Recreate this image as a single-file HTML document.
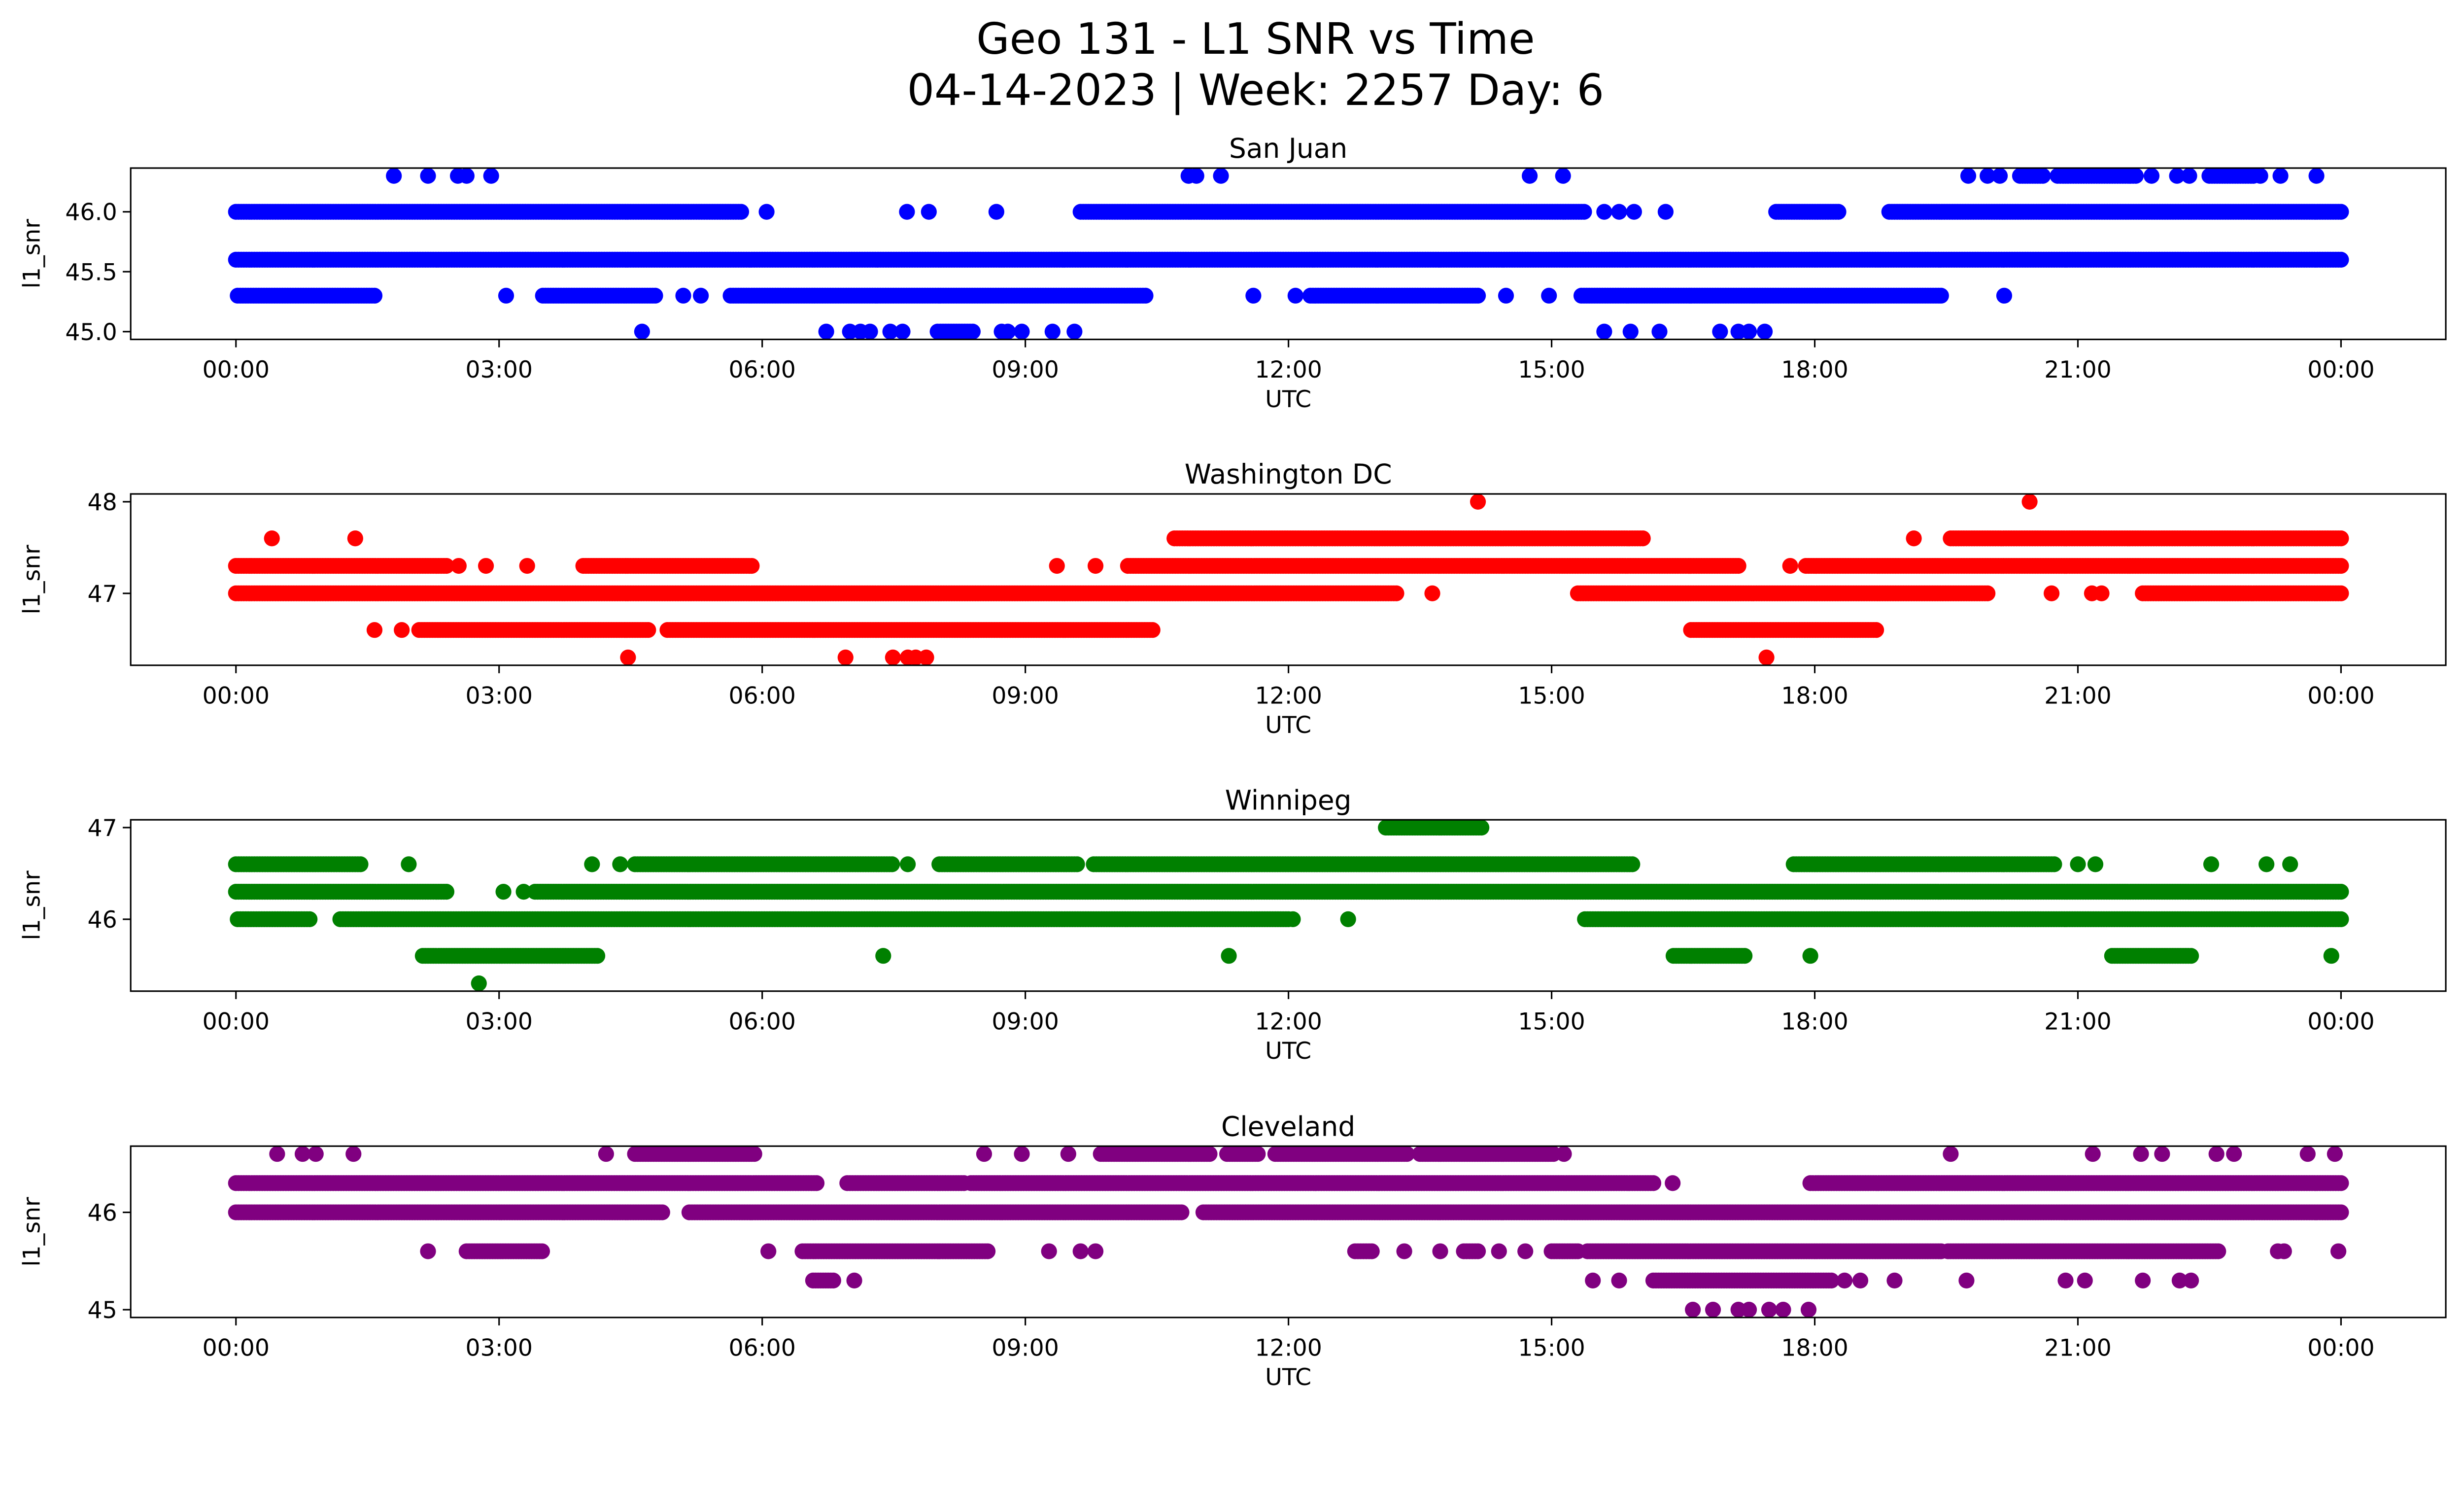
<!DOCTYPE html>
<html><head><meta charset="utf-8"><title>Geo 131 - L1 SNR vs Time</title>
<style>
html,body{margin:0;padding:0;background:#fff;overflow:hidden;}
svg{display:block;position:absolute;left:0;top:0;width:100vw;height:calc(100vw * 3033 / 5279);font-family:"DejaVu Sans","Liberation Sans",sans-serif;}
</style></head>
<body>
<svg id="fig" viewBox="0 0 5279 3033" preserveAspectRatio="none" xmlns="http://www.w3.org/2000/svg">
<rect x="0" y="0" width="5279" height="3033" fill="#fff"/>
<text x="2690" y="115" font-size="92" text-anchor="middle">Geo 131 - L1 SNR vs Time</text>
<text x="2690" y="225" font-size="92" text-anchor="middle">04-14-2023 | Week: 2257 Day: 6</text>
</svg>
<script>
// Each entry: [snr value, start hour, end hour] (start==end for a single point)
const sanJuan = [
 [46.3,1.80,1.80],[46.3,2.19,2.19],[46.3,2.53,2.53],[46.3,2.63,2.63],[46.3,2.91,2.91],[46.3,10.86,10.86],[46.3,10.95,10.95],[46.3,11.23,11.23],[46.3,14.75,14.75],[46.3,15.13,15.13],[46.3,19.75,19.75],[46.3,19.97,19.97],[46.3,20.11,20.11],[46.3,20.34,20.6],[46.3,20.77,21.66],[46.3,21.84,21.84],[46.3,22.13,22.13],[46.3,22.27,22.27],[46.3,22.5,23.0],[46.3,23.08,23.08],[46.3,23.31,23.31],[46.3,23.72,23.72],
 [46.0,0,5.76],[46.0,6.05,6.05],[46.0,7.65,7.65],[46.0,7.9,7.9],[46.0,8.67,8.67],[46.0,9.63,15.37],[46.0,15.6,15.6],[46.0,15.77,15.77],[46.0,15.94,15.94],[46.0,16.3,16.3],[46.0,17.56,18.27],[46.0,18.85,24],
 [45.6,0,24],
 [45.3,0.02,1.58],[45.3,3.08,3.08],[45.3,3.5,4.78],[45.3,5.1,5.1],[45.3,5.3,5.3],[45.3,5.64,10.37],[45.3,11.6,11.6],[45.3,12.08,12.08],[45.3,12.25,14.16],[45.3,14.48,14.48],[45.3,14.97,14.97],[45.3,15.34,19.44],[45.3,20.16,20.16],
 [45.0,4.63,4.63],[45.0,6.73,6.73],[45.0,7.0,7.0],[45.0,7.12,7.12],[45.0,7.23,7.23],[45.0,7.46,7.46],[45.0,7.6,7.6],[45.0,8.0,8.4],[45.0,8.73,8.73],[45.0,8.8,8.8],[45.0,8.96,8.96],[45.0,9.31,9.31],[45.0,9.56,9.56],[45.0,15.6,15.6],[45.0,15.9,15.9],[45.0,16.23,16.23],[45.0,16.92,16.92],[45.0,17.13,17.13],[45.0,17.25,17.25],[45.0,17.43,17.43]
];
const washington = [
 [48.0,14.16,14.16],[48.0,20.45,20.45],
 [47.6,0.41,0.41],[47.6,1.36,1.36],[47.6,10.7,16.04],[47.6,19.13,19.13],[47.6,19.55,24],
 [47.3,0,2.4],[47.3,2.54,2.54],[47.3,2.85,2.85],[47.3,3.32,3.32],[47.3,3.96,5.88],[47.3,9.36,9.36],[47.3,9.8,9.8],[47.3,10.17,17.13],[47.3,17.72,17.72],[47.3,17.9,24],
 [47.0,0,13.23],[47.0,13.64,13.64],[47.0,15.3,19.97],[47.0,20.7,20.7],[47.0,21.16,21.16],[47.0,21.27,21.27],[47.0,21.74,24],
 [46.6,1.58,1.58],[46.6,1.89,1.89],[46.6,2.09,4.7],[46.6,4.92,10.45],[46.6,16.59,18.7],
 [46.3,4.47,4.47],[46.3,6.95,6.95],[46.3,7.49,7.49],[46.3,7.66,7.66],[46.3,7.75,7.75],[46.3,7.87,7.87],[46.3,17.45,17.45]
];
const winnipeg = [
 [47.0,13.11,14.2],
 [46.6,0,1.42],[46.6,1.97,1.97],[46.6,4.06,4.06],[46.6,4.38,4.38],[46.6,4.55,7.48],[46.6,7.66,7.66],[46.6,8.02,9.59],[46.6,9.78,15.92],[46.6,17.76,20.73],[46.6,21.0,21.0],[46.6,21.2,21.2],[46.6,22.52,22.52],[46.6,23.15,23.15],[46.6,23.42,23.42],
 [46.3,0,2.4],[46.3,3.05,3.05],[46.3,3.28,3.28],[46.3,3.41,24],
 [46.0,0.02,0.84],[46.0,1.19,12.0],[46.0,12.05,12.05],[46.0,12.68,12.68],[46.0,15.38,24],
 [45.6,2.13,4.12],[45.6,7.38,7.38],[45.6,11.32,11.32],[45.6,16.39,17.2],[45.6,17.95,17.95],[45.6,21.39,22.29],[45.6,23.89,23.89],
 [45.3,2.77,2.77]
];
const cleveland = [
 [46.6,0.47,0.47],[46.6,0.76,0.76],[46.6,0.91,0.91],[46.6,1.34,1.34],[46.6,4.22,4.22],[46.6,4.55,5.91],[46.6,8.53,8.53],[46.6,8.96,8.96],[46.6,9.49,9.49],[46.6,9.86,11.1],[46.6,11.3,11.65],[46.6,11.85,13.35],[46.6,13.5,15.02],[46.6,15.14,15.14],[46.6,19.55,19.55],[46.6,21.17,21.17],[46.6,21.72,21.72],[46.6,21.96,21.96],[46.6,22.58,22.58],[46.6,22.78,22.78],[46.6,23.62,23.62],[46.6,23.93,23.93],
 [46.3,0,6.62],[46.3,6.97,8.3],[46.3,8.38,16.16],[46.3,16.38,16.38],[46.3,17.95,24],
 [46.0,0,4.86],[46.0,5.17,10.78],[46.0,11.03,24],
 [45.6,2.19,2.19],[45.6,2.63,3.49],[45.6,6.07,6.07],[45.6,6.46,8.57],[45.6,9.27,9.27],[45.6,9.63,9.63],[45.6,9.8,9.8],[45.6,12.76,12.95],[45.6,13.32,13.32],[45.6,13.73,13.73],[45.6,14.0,14.16],[45.6,14.4,14.4],[45.6,14.7,14.7],[45.6,15.0,15.3],[45.6,15.41,19.44],[45.6,19.52,22.6],[45.6,23.28,23.28],[45.6,23.35,23.35],[45.6,23.97,23.97],
 [45.3,6.58,6.81],[45.3,7.05,7.05],[45.3,15.47,15.47],[45.3,15.77,15.77],[45.3,16.16,18.19],[45.3,18.34,18.34],[45.3,18.52,18.52],[45.3,18.91,18.91],[45.3,19.73,19.73],[45.3,20.86,20.86],[45.3,21.08,21.08],[45.3,21.74,21.74],[45.3,22.16,22.16],[45.3,22.29,22.29],
 [45.0,16.61,16.61],[45.0,16.84,16.84],[45.0,17.13,17.13],[45.0,17.25,17.25],[45.0,17.48,17.48],[45.0,17.64,17.64],[45.0,17.93,17.93]
];
const stationNames = ["San Juan","Washington DC","Winnipeg","Cleveland"];
const xTickHours = [0,3,6,9,12,15,18,21,24];
const xTickLabels = ["00:00","03:00","06:00","09:00","12:00","15:00","18:00","21:00","00:00"];
const yTicks1 = [45.0,45.5,46.0];
const yTicks2 = [47,48];
const yTicks3 = [46,47];
const yTicks4 = [45,46];

const NS="http://www.w3.org/2000/svg";
const svg=document.getElementById('fig');
const AX_L=280, AX_R=5240, X0=505.5, X24=5015.5, AX_H=367;
const tops=[360,1058,1756,2455];
const colors=["#0000ff","#ff0000","#008000","#800080"];
const allData=[sanJuan,washington,winnipeg,cleveland];
const allYTicks=[yTicks1,yTicks2,yTicks3,yTicks4];
const yDecimals=[1,0,0,0];
function xScale(h){return X0+(X24-X0)*h/24;}
function mk(tag,attrs){const e=document.createElementNS(NS,tag);for(const k in attrs)e.setAttribute(k,attrs[k]);return e;}

allData.forEach((data,pi)=>{
  const top=tops[pi], bot=top+AX_H;
  let vals=data.map(d=>d[0]);
  let mn=Math.min(...vals), mx=Math.max(...vals), m=(mx-mn)*0.05;
  const y0=mn-m, y1=mx+m;
  const yScale=v=>bot-(v-y0)/(y1-y0)*AX_H;
  const g=mk('g',{});
  
  
  svg.appendChild(g);
  const clip=mk('clipPath',{id:'c'+pi});
  clip.appendChild(mk('rect',{x:AX_L,y:top,width:AX_R-AX_L,height:AX_H}));
  g.appendChild(clip);
  const pts=mk('g',{fill:colors[pi],'clip-path':'url(#c'+pi+')'});
  
  
  g.appendChild(pts);
  data.forEach(d=>{
    const cy=yScale(d[0]);
    const n=Math.max(0,Math.round((d[2]-d[1])/0.03));
    for(let i=0;i<=n;i++){
      const h=n===0?d[1]:d[1]+(d[2]-d[1])*i/n;
      const c=mk('circle',{cx:xScale(h).toFixed(1),cy:cy.toFixed(1),r:17});
      
      
      pts.appendChild(c);
    }
  });
  const frame=mk('rect',{x:AX_L,y:top,width:AX_R-AX_L,height:AX_H,fill:'none',stroke:'#000','stroke-width':3.3});
  
  
  g.appendChild(frame);
  xTickHours.forEach((h,i)=>{
    const x=xScale(h);
    const t=mk('line',{x1:x,x2:x,y1:bot,y2:bot+17,stroke:'#000','stroke-width':3.3});
    
    
    g.appendChild(t);
    const l=mk('text',{x:x,y:bot+82,'font-size':50,'text-anchor':'middle'});
    
    
    l.textContent=xTickLabels[i];
    g.appendChild(l);
  });
  allYTicks[pi].forEach(v=>{
    const y=yScale(v);
    const t=mk('line',{x1:AX_L-17,x2:AX_L,y1:y,y2:y,stroke:'#000','stroke-width':3.3});
    
    
    g.appendChild(t);
    const l=mk('text',{x:AX_L-29,y:y+18,'font-size':50,'text-anchor':'end'});
    
    
    l.textContent=v.toFixed(yDecimals[pi]);
    g.appendChild(l);
  });
  const xt=mk('text',{x:(AX_L+AX_R)/2,y:bot+145,'font-size':50,'text-anchor':'middle'});
  
  
  xt.textContent='UTC';
  g.appendChild(xt);
  const cyT=top+AX_H/2;
  const yt=mk('text',{x:85,y:cyT,'font-size':50,'text-anchor':'middle',transform:'rotate(-90 85 '+cyT+')'});
  
  
  yt.textContent='l1_snr';
  g.appendChild(yt);
  const st=mk('text',{x:(AX_L+AX_R)/2,y:top-22,'font-size':58,'text-anchor':'middle'});
  
  
  st.textContent=stationNames[pi];
  g.appendChild(st);
});
</script>
</body></html>
